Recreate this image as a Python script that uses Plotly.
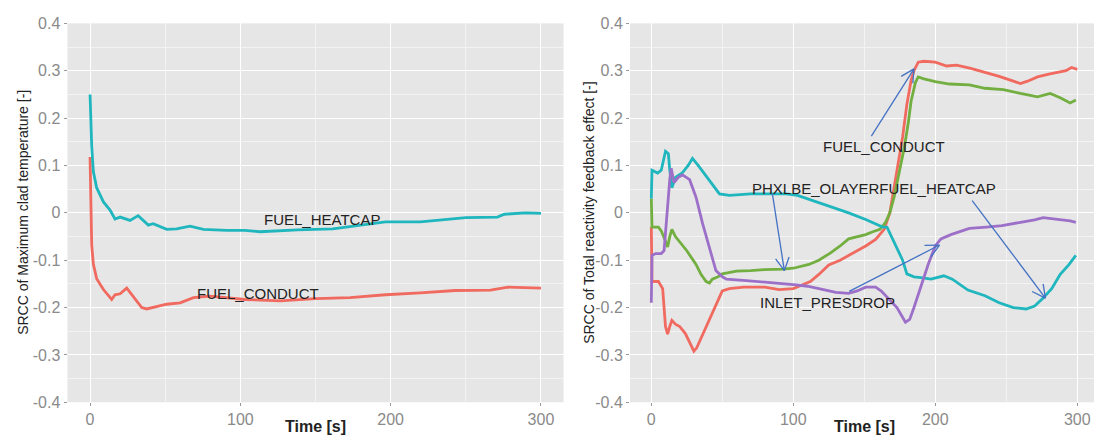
import math
import plotly.graph_objects as go

# ---------------- data ----------------
# Left panel: SRCC of maximum clad temperature
t_left_heatcap = [0, 1.1, 2.2, 4.4, 8.9, 13.3, 16.6, 20, 26.6, 32, 38.8, 42, 51, 57.6, 66.5, 75.4, 91,
                  103, 113, 138, 161.5, 173, 196.5, 219.8, 243, 250, 271, 275.7, 289.7, 300]
v_left_heatcap = [0.25, 0.141, 0.087, 0.053, 0.023, 0.006, -0.013, -0.009, -0.016, -0.006, -0.026, -0.023,
                  -0.035, -0.034, -0.028, -0.035, -0.037, -0.037, -0.04, -0.036, -0.034, -0.029, -0.019,
                  -0.019, -0.013, -0.01, -0.009, -0.003, 0.0, -0.001]

t_left_conduct = [0, 0.5, 1.1, 2.2, 4.4, 8.9, 14.4, 16.6, 20, 24.4, 28.8, 34.4, 37.7, 42.1, 51, 59.9, 68.8,
                  79.8, 103, 126.5, 150, 173, 196.5, 219.8, 243, 266.4, 278, 300]
v_left_conduct = [0.118, 0.026, -0.068, -0.108, -0.139, -0.162, -0.183, -0.173, -0.171, -0.159, -0.176,
                  -0.2, -0.203, -0.2, -0.193, -0.19, -0.179, -0.176, -0.183, -0.186, -0.181, -0.179,
                  -0.173, -0.169, -0.164, -0.163, -0.157, -0.159]

# Right panel: SRCC of total reactivity feedback effect
t_r_conduct = [0, 0.5, 5, 8, 10, 11.5, 13, 14.5, 17, 20, 24, 27, 30, 32, 35, 40, 45, 50, 55, 65, 80, 90,
               100, 106, 112, 118, 125, 133, 139, 151, 158, 164, 168, 173, 177, 180, 183, 185, 188, 192,
               200, 208, 215, 225, 235, 245, 255, 260, 265, 272, 280, 287, 292, 296, 300]
v_r_conduct = [-0.03, -0.145, -0.145, -0.16, -0.24, -0.256, -0.24, -0.227, -0.235, -0.24, -0.255, -0.275,
               -0.292, -0.285, -0.265, -0.231, -0.2, -0.165, -0.16, -0.157, -0.157, -0.162, -0.16, -0.152,
               -0.145, -0.13, -0.11, -0.1, -0.09, -0.07, -0.056, -0.035, 0.0, 0.094, 0.16, 0.229, 0.28,
               0.3, 0.318, 0.32, 0.318, 0.31, 0.312, 0.305, 0.297, 0.288, 0.278, 0.273, 0.278, 0.287,
               0.293, 0.297, 0.3, 0.307, 0.303]

t_r_olayer = [0, 0.5, 5, 7, 10, 11.5, 13, 14.5, 17, 20, 25, 31.5, 35, 38.6, 41, 43, 47, 50, 60, 70, 80,
              93, 100, 111, 118, 126, 133, 139, 145, 151, 156, 161, 165, 168, 171, 175, 178, 181, 183,
              186, 188, 192, 200, 210, 224, 235, 248, 260, 272, 281, 288, 295, 299]
v_r_olayer = [0.03, -0.03, -0.03, -0.038, -0.06, -0.072, -0.05, -0.035, -0.05, -0.062, -0.08, -0.109,
              -0.13, -0.145, -0.148, -0.14, -0.135, -0.129, -0.123, -0.122, -0.12, -0.119, -0.117, -0.109,
              -0.1, -0.085, -0.07, -0.055, -0.05, -0.046, -0.04, -0.035, -0.02, 0.0, 0.033, 0.09, 0.135,
              0.19, 0.236, 0.275, 0.287, 0.283, 0.277, 0.272, 0.27, 0.263, 0.26, 0.252, 0.245, 0.252,
              0.243, 0.232, 0.238]

t_r_heatcap = [0, 0.5, 4.5, 7, 10, 12, 13, 14.5, 17, 22, 26, 29, 33, 38, 41, 45, 48, 55, 70, 83, 95, 103,
               115, 127, 139, 151, 163, 166, 172, 177, 180, 185, 190, 197, 206, 212, 223, 235, 245, 255,
               264, 270, 276, 282, 288, 294, 299]
v_r_heatcap = [0.03, 0.09, 0.084, 0.09, 0.13, 0.125, 0.09, 0.053, 0.075, 0.085, 0.1, 0.115, 0.1, 0.08,
               0.067, 0.05, 0.04, 0.037, 0.04, 0.04, 0.04, 0.037, 0.025, 0.013, 0.0, -0.014, -0.03, -0.03,
               -0.07, -0.1, -0.129, -0.135, -0.137, -0.14, -0.133, -0.14, -0.163, -0.175, -0.19, -0.2,
               -0.203, -0.197, -0.18, -0.16, -0.13, -0.11, -0.09]

t_r_presdrop = [0, 0.5, 3, 7, 9, 11.5, 13, 14, 15, 16, 19, 22, 27, 31.5, 36, 41, 45.5, 50, 53, 67, 80, 90,
                102, 110, 121, 130, 139, 145, 151, 158, 162, 166, 173, 179, 182, 185, 190, 195, 200, 204,
                211, 224, 236, 247, 260, 270, 276, 282, 288, 295, 299]
v_r_presdrop = [-0.19, -0.09, -0.086, -0.086, -0.08, 0.02, 0.07, 0.094, 0.075, 0.064, 0.075, 0.08, 0.07,
                0.033, -0.021, -0.075, -0.122, -0.135, -0.14, -0.143, -0.146, -0.148, -0.152, -0.155,
                -0.163, -0.168, -0.17, -0.165, -0.157, -0.157, -0.165, -0.178, -0.2, -0.231, -0.225, -0.2,
                -0.155, -0.109, -0.07, -0.055, -0.046, -0.033, -0.03, -0.027, -0.02, -0.015, -0.01,
                -0.012, -0.015, -0.017, -0.02]

y_tickvals = [0.4, 0.3, 0.2, 0.1, 0.0, -0.1, -0.2, -0.3, -0.4]
y_ticktext = ["0.4", "0.3", "0.2", "0.1", "0", "-0.1", "-0.2", "-0.3", "-0.4"]
x_tickvals = [0, 100, 200, 300]
x_ticktext = ["0", "100", "200", "300"]

# labels (text, t, v)
left_labels = [("FUEL_HEATCAP", 154, -0.014), ("FUEL_CONDUCT", 112, -0.17)]
right_labels = [("FUEL_CONDUCT", 164, 0.14), ("PHXLBE_OLAYERFUEL_HEATCAP", 157, 0.051),
                ("INLET_PRESDROP", 124, -0.19)]
# arrows: (t_start, v_start, t_end, v_end)
right_arrows = [(155, 0.162, 185, 0.304), (85.3, 0.04, 93.7, -0.122),
                (226, 0.026, 277.6, -0.18), (139.4, -0.166, 203, -0.068)]

# ---------------- style ----------------
W, H = 1094, 443
RED, GREEN, CYAN, PURPLE = "#F06A60", "#72AF40", "#1FB6BE", "#9C70C8"
ARROW = "#4472C4"
BG = "#E6E6E6"
FONT = "Liberation Sans, Arial, sans-serif"

L_DOM = [67.5 / W, 563.5 / W]
R_DOM = [630 / W, 1.0]
Y_DOM = [33 / H, 427 / H]
L_RANGE = [-15, 315]
R_RANGE = [-15, 311.8]

fig = go.Figure()

def add_line(t, v, color, xa, ya):
    fig.add_trace(go.Scatter(x=t, y=v, mode="lines", xaxis=xa, yaxis=ya,
                             line=dict(color=color, width=2.8), showlegend=False,
                             hoverinfo="skip"))

add_line(t_left_conduct, v_left_conduct, RED, "x", "y")
add_line(t_left_heatcap, v_left_heatcap, CYAN, "x", "y")
add_line(t_r_conduct, v_r_conduct, RED, "x2", "y2")
add_line(t_r_olayer, v_r_olayer, GREEN, "x2", "y2")
add_line(t_r_heatcap, v_r_heatcap, CYAN, "x2", "y2")
add_line(t_r_presdrop, v_r_presdrop, PURPLE, "x2", "y2")

TICKFONT = dict(family=FONT, size=16, color="#8A8A8A")

def xaxis(dom, rng, anchor):
    return dict(domain=dom, range=rng, anchor=anchor, tickvals=x_tickvals, ticktext=x_ticktext,
                showgrid=True, gridcolor="white", gridwidth=1.4, zeroline=False,
                minor=dict(showgrid=True, gridcolor="#F3F3F3", gridwidth=0.7, dtick=50, tick0=0),
                ticks="outside", ticklen=3, tickcolor="#999999", tickwidth=1,
                tickfont=TICKFONT, showline=False)

def yaxis(anchor):
    return dict(domain=Y_DOM, range=[-0.4, 0.4], anchor=anchor, tickvals=y_tickvals,
                ticktext=y_ticktext, showgrid=True, gridcolor="white", gridwidth=1.4,
                zeroline=False,
                minor=dict(showgrid=True, gridcolor="#F3F3F3", gridwidth=0.7, dtick=0.05, tick0=0),
                ticks="outside", ticklen=3, tickcolor="#999999", tickwidth=1,
                tickfont=TICKFONT, showline=False)

fig.update_layout(
    width=W, height=H, margin=dict(l=0, r=0, t=0, b=0),
    paper_bgcolor="white", plot_bgcolor=BG,
    xaxis=xaxis(L_DOM, L_RANGE, "y"), yaxis=yaxis("x"),
    xaxis2=xaxis(R_DOM, R_RANGE, "y2"), yaxis2=yaxis("x2"),
    font=dict(family=FONT),
)

annotations = []
for txt, t, v in left_labels:
    annotations.append(dict(text=txt, x=t, y=v, xref="x", yref="y", showarrow=False,
                            font=dict(family=FONT, size=15, color="#222222")))
for txt, t, v in right_labels:
    annotations.append(dict(text=txt, x=t, y=v, xref="x2", yref="y2", showarrow=False,
                            font=dict(family=FONT, size=15, color="#222222")))

# axis titles
for dom, ttl_x, ytitle in [(L_DOM, 23, "SRCC of Maximum clad temperature [-]"),
                           (R_DOM, 589, "SRCC of Total reactivity feedback effect [-]")]:
    if dom is L_DOM:
        cx = (L_DOM[0] + L_DOM[1]) / 2
    else:
        cx = (651.3 + 1077) / 2 / W
    annotations.append(dict(text="Time [s]", x=cx, y=1 - 435 / H, xref="paper", yref="paper",
                            showarrow=False, xanchor="center", yanchor="middle",
                            font=dict(family=FONT, size=16, color="#222222", weight="bold")))
    annotations.append(dict(text=ytitle, x=ttl_x / W, y=(Y_DOM[0] + Y_DOM[1]) / 2, xref="paper",
                            yref="paper", showarrow=False, textangle=-90, xanchor="center",
                            yanchor="middle", font=dict(family=FONT, size=14, color="#222222")))
fig.update_layout(annotations=annotations)

# arrows with open V heads, computed in pixel space
kx = (R_DOM[1] - R_DOM[0]) * W / (R_RANGE[1] - R_RANGE[0])
ky = (Y_DOM[1] - Y_DOM[0]) * H / 0.8
head_len, head_ang = 15, math.radians(27)
shapes = []
for ts, vs, te, ve in right_arrows:
    shapes.append(dict(type="line", xref="x2", yref="y2", x0=ts, y0=vs, x1=te, y1=ve,
                       line=dict(color=ARROW, width=1.3)))
    dx, dy = (ts - te) * kx, (vs - ve) * ky
    n = math.hypot(dx, dy)
    ux, uy = dx / n, dy / n
    for s in (1, -1):
        ca, sa = math.cos(s * head_ang), math.sin(s * head_ang)
        bx = (ux * ca - uy * sa) * head_len
        by = (ux * sa + uy * ca) * head_len
        shapes.append(dict(type="line", xref="x2", yref="y2", x0=te, y0=ve,
                           x1=te + bx / kx, y1=ve + by / ky,
                           line=dict(color=ARROW, width=1.3)))
fig.update_layout(shapes=shapes)

fig.write_html("out.html", config={"responsive": False, "displayModeBar": False},
               post_script="document.body.style.margin='0px';document.body.style.overflow='hidden';")
